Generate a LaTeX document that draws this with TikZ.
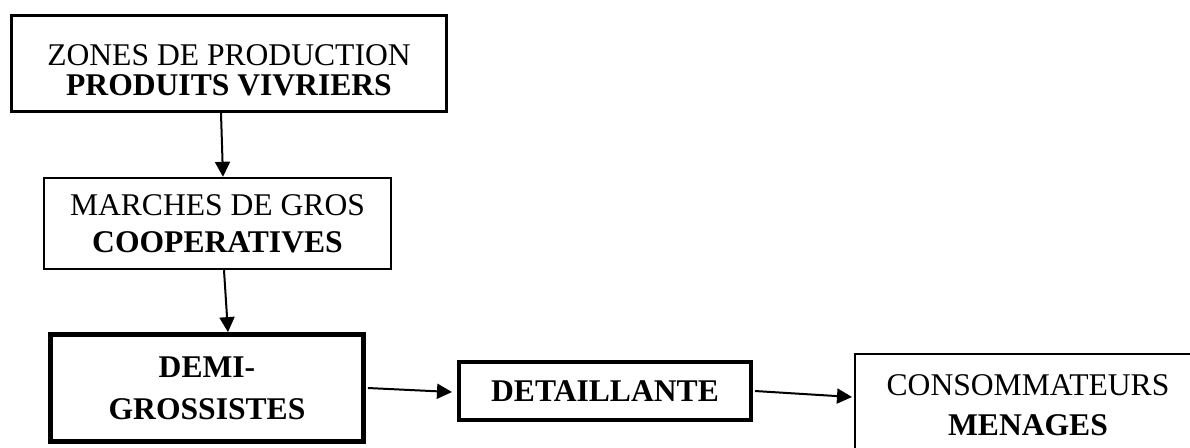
\documentclass[tikz,border=0pt]{standalone}
\usepackage{fontspec}
\setmainfont{Liberation Serif}
\usetikzlibrary{arrows.meta}
\tikzset{
    box/.style={draw, align=center, inner sep=0pt, font=\fontsize{15.8pt}{#1}\selectfont},
    box/.default=19pt,
    flow/.style={line width=1pt, -{Triangle[length=7.5pt,width=7.5pt]}}
}
\begin{document}
\begin{tikzpicture}[x=0.5pt,y=-0.5pt]
    \useasboundingbox (0,0) rectangle (1190,447);
    % Boxes of the chain
    \node[box=15pt, line width=1.6pt, minimum width=217.5pt, minimum height=48pt] (zones) at (229,63.5)
        {\rule{0pt}{17.5pt}ZONES DE PRODUCTION\\ \textbf{PRODUITS VIVRIERS}};
    \node[box=18.5pt, line width=1.2pt, minimum width=173.5pt, minimum height=45.5pt] (marches) at (217.5,223.5)
        {MARCHES DE GROS\\ \textbf{COOPERATIVES}};
    \node[box=21pt, line width=2.4pt, minimum width=156.5pt, minimum height=53.5pt] (demi) at (207,388)
        {\textbf{DEMI-}\\ \textbf{GROSSISTES}};
    \node[box, line width=2pt, minimum width=146pt, minimum height=29pt] (detail) at (605,391)
        {\textbf{DETAILLANTE}};
    \node[box=20pt, line width=1pt, minimum width=173pt, minimum height=51.5pt] (conso) at (1028,405.5)
        {CONSOMMATEURS\\ \textbf{MENAGES}};
    % Arrows between boxes
    \draw[flow] ([xshift=-4pt]zones.south) -- ([xshift=2.75pt]marches.north);
    \draw[flow] ([xshift=3.25pt]marches.south) -- ([xshift=10.5pt]demi.north);
    \draw[flow] ([xshift=1pt]demi.east) -- ([xshift=-2.5pt,yshift=-0.5pt]detail.west);
    \draw[flow] ([xshift=1pt]detail.east) -- ([xshift=-1pt,yshift=4.25pt]conso.west);
\end{tikzpicture}
\end{document}
